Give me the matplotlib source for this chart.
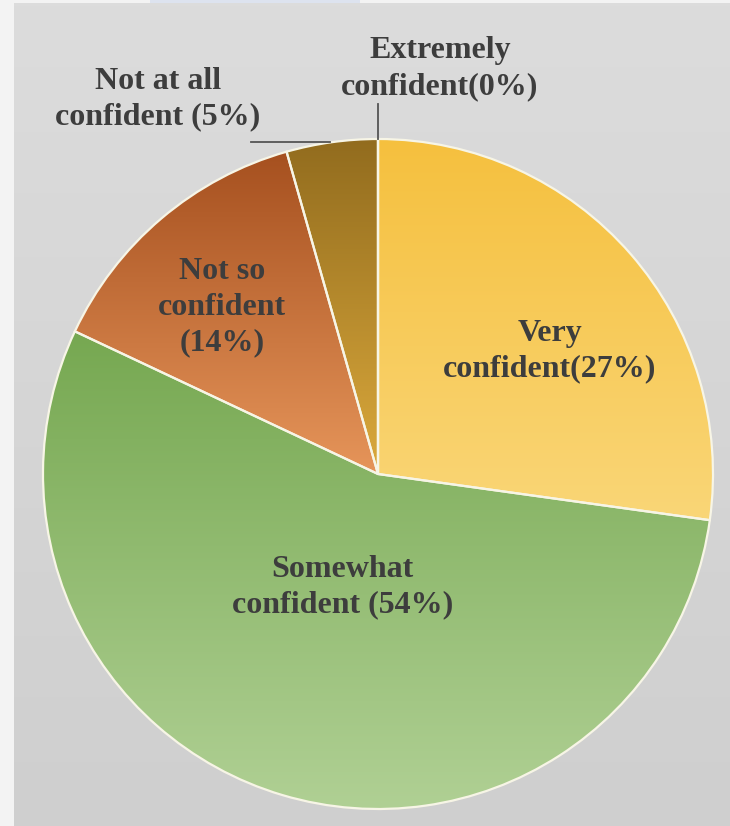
import numpy as np
import matplotlib
matplotlib.use("Agg")
from matplotlib import pyplot as plt
from matplotlib.colors import LinearSegmentedColormap

# shares (clockwise from 12 o'clock)
categories = ["Very\nconfident(27%)", "Somewhat\nconfident (54%)", "Not so\nconfident\n(14%)",
              "Not at all\nconfident (5%)", "Extremely\nconfident(0%)"]
shares = [27.2, 54.8, 13.6, 4.4, 0.0]
top_colors = ["#f5c03e", "#76a851", "#a6501f", "#926c1e", "#f5c03e"]
bottom_colors = ["#fad677", "#b0d094", "#e6955a", "#dba93c", "#fad677"]

# label spots, in pie radii from the centre
label_offsets = [(0.513, 0.367), (-0.107, -0.337), (-0.466, 0.497), (-0.657, 1.119), (0.185, 1.21)]

W, H = 730, 826
cx, cy, r = 378, H - 474, 335

fig = plt.figure(figsize=(W / 100, H / 100), dpi=100, facecolor="#f3f3f3")
ax = fig.add_axes([0, 0, 1, 1])

# gray panel with a faint vertical gradient
bg = LinearSegmentedColormap.from_list("bg", ["#cfcfcf", "#dcdcdc"])
ax.imshow(np.linspace(0, 1, 256).reshape(-1, 1), cmap=bg, origin="lower",
          extent=(14, W, 0, H - 3), aspect="auto", zorder=0)
ax.fill_between([150, 360], H - 3, H, color="#dde3ef", zorder=0, lw=0)

wedges, _ = ax.pie(shares, startangle=90, counterclock=False, center=(cx, cy), radius=r,
                   colors=top_colors, wedgeprops=dict(edgecolor="#f7f5e6", linewidth=1.6),
                   normalize=True)
ax.set_xlim(0, W)
ax.set_ylim(0, H)
ax.set_aspect("equal")
ax.axis("off")

for w, c_top, c_bot in zip(wedges, top_colors, bottom_colors):
    if abs(w.theta2 - w.theta1) < 1e-6:
        continue
    x0, y0, x1, y1 = w.get_path().get_extents().extents
    cmap = LinearSegmentedColormap.from_list("g", [c_bot, c_top])
    img = ax.imshow(np.linspace(0, 1, 256).reshape(-1, 1), cmap=cmap, origin="lower",
                    extent=(x0, x1, y0, y1), aspect="auto", zorder=w.get_zorder() - 0.01)
    img.set_clip_path(w)
    w.set_facecolor("none")

for label, (dx, dy) in zip(categories, label_offsets):
    ax.text(cx + dx * r, cy + dy * r, label, ha="center", va="center", fontsize=23,
            fontweight="bold", family="Liberation Serif", color="#3d3d3d", linespacing=1.3,
            zorder=5)

# leader lines for the two small slices
ax.plot([cx, cx], [H - 104, cy + r], color="#555555", lw=1.3, zorder=5)
ax.plot([251, 330], [H - 142, H - 142], color="#555555", lw=1.3, zorder=5)

fig.savefig("out.png", dpi=100, facecolor=fig.get_facecolor())
